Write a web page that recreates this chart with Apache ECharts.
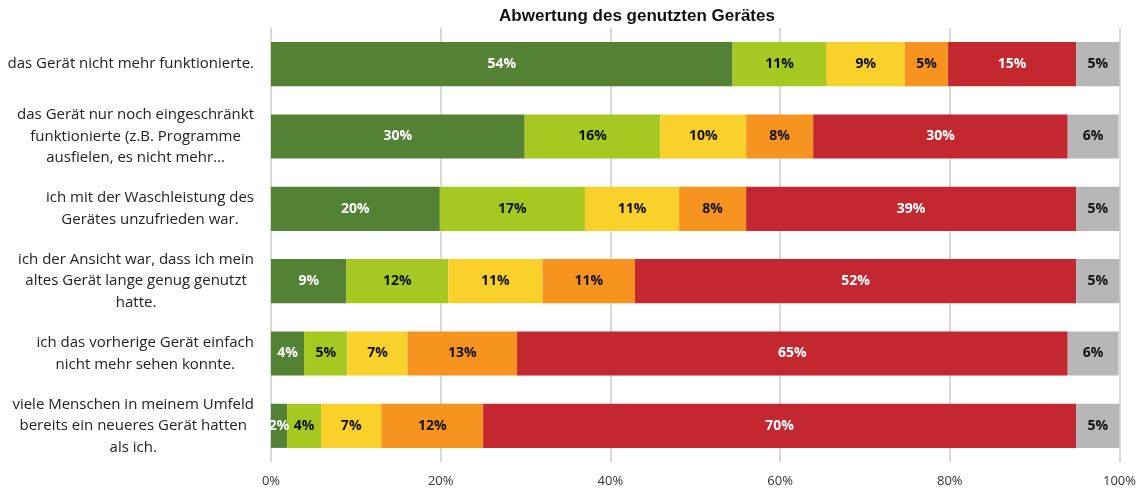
<!DOCTYPE html>
<html><head><meta charset="utf-8">
<script src="https://cdn.jsdelivr.net/npm/echarts@6/dist/echarts.min.js"></script>
<style>html,body{margin:0;padding:0;background:#fff}#c{width:1139px;height:490px}</style>
</head><body><div id="c"></div>
<script>
const categories = [
  "das Gerät nicht mehr funktionierte.",
  "das Gerät nur noch eingeschränkt\nfunktionierte (z.B. Programme\nausfielen, es nicht mehr…",
  "ich mit der Waschleistung des\nGerätes unzufrieden war.",
  "ich der Ansicht war, dass ich mein\naltes Gerät lange genug genutzt\nhatte.",
  "ich das vorherige Gerät einfach\nnicht mehr sehen konnte.",
  "viele Menschen in meinem Umfeld\nbereits ein neueres Gerät hatten\nals ich."
];
const seriesNames = ["trifft voll zu", "trifft eher zu", "teils/teils", "trifft eher nicht zu", "trifft gar nicht zu", "keine Angabe"];
const s1 = [54.4, 29.9, 19.9, 8.9, 3.9, 1.9];
const s2 = [11.1, 16.0, 17.1, 12.0, 5.1, 4.0];
const s3 = [9.2, 10.1, 11.1, 11.1, 7.1, 7.1];
const s4 = [5.1, 7.9, 7.9, 10.9, 12.9, 12.0];
const s5 = [15.1, 30.0, 38.9, 52.0, 64.9, 69.9];
const s6 = [5.1, 6.0, 5.1, 5.1, 6.0, 5.1];
const xTicks = [0, 20, 40, 60, 80, 100];
const title = "Abwertung des genutzten Gerätes";

const colors = ["#548235", "#A6C821", "#FAD02A", "#F7941F", "#C3272F", "#B7B7B7"];
const labelColors = ["#ffffff", "#111111", "#111111", "#111111", "#ffffff", "#111111"];
const all = [s1, s2, s3, s4, s5, s6];

const chart = echarts.init(document.getElementById('c'), null, {renderer: 'canvas'});
chart.setOption({
  animation: false,
  title: {
    text: title, left: 632, top: 3, textAlign: 'center',
    textStyle: {fontFamily: 'Liberation Sans', fontSize: 17, fontWeight: 'bold', color: '#111'}
  },
  grid: {left: 271, right: 19, top: 28, bottom: 28, containLabel: false},
  xAxis: {
    type: 'value', min: 0, max: 100, interval: 20,
    axisLabel: {formatter: v => v + '%', fontFamily: 'Open Sans', fontSize: 13, color: '#333', margin: 13},
    splitLine: {show: true, lineStyle: {color: '#D9D9D9', width: 2}},
    axisLine: {show: false}, axisTick: {show: false}
  },
  yAxis: {
    type: 'category', data: categories, inverse: true,
    axisLine: {show: false}, axisTick: {show: false},
    axisLabel: {
      margin: 17, align: 'right',
      formatter: v => v.split('\n').map(l => '{c|' + l + '}').join('\n'),
      rich: {c: {fontFamily: 'Open Sans', fontSize: 15, color: '#222', lineHeight: 21.5, align: 'center'}}
    }
  },
  series: all.map((d, i) => ({
    name: seriesNames[i], type: 'bar', stack: 'total', data: d, barWidth: '61%',
    itemStyle: {color: colors[i]},
    label: {show: true, position: 'inside', formatter: p => Math.round(p.value) + '%',
      fontFamily: 'Open Sans', fontSize: 14, fontWeight: 'bold', color: labelColors[i]}
  }))
});
</script></body></html>
